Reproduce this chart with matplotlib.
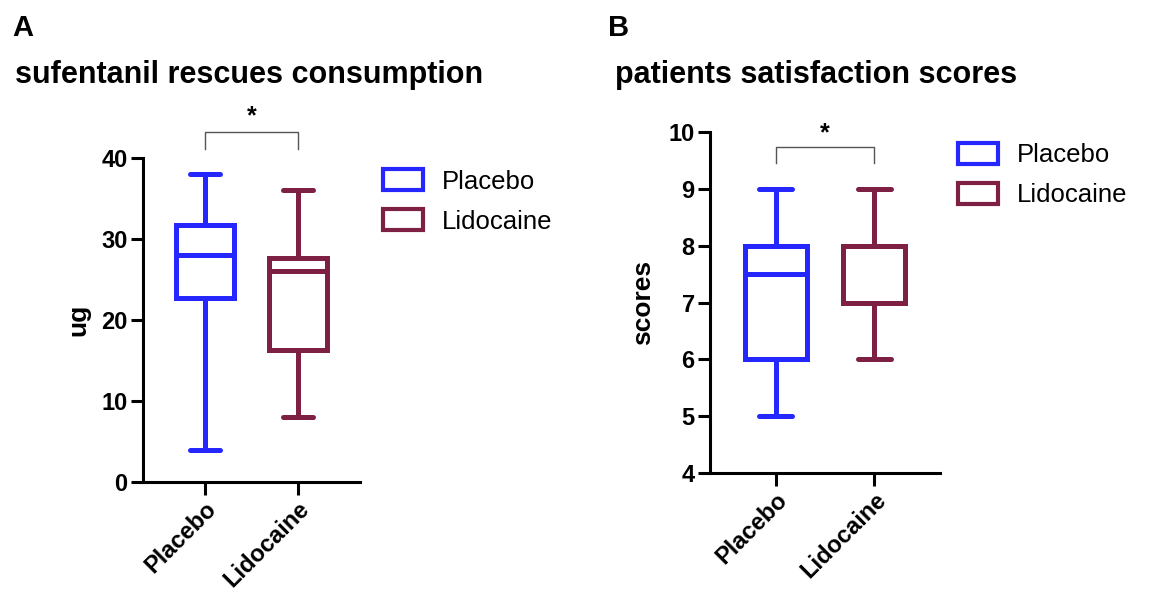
import matplotlib
matplotlib.use("Agg")
import matplotlib.pyplot as plt
from matplotlib.patches import Patch

plt.rcParams['font.family'] = ['Liberation Sans', 'DejaVu Sans']

# Dados
grupos = ['Placebo', 'Lidocaine']
cores = ['#2626FF', '#7E1F44']

# A - consumo de sufentanil (ug)
suf_min = [4, 8]
suf_q1 = [22.75, 16.3]
suf_med = [28, 26]
suf_q3 = [31.7, 27.7]
suf_max = [38, 36]

# B - escores de satisfação
sat_min = [5, 6]
sat_q1 = [6, 7]
sat_med = [7.5, 8]
sat_q3 = [8, 8]
sat_max = [9, 9]

fig = plt.figure(figsize=(11.52, 5.93), dpi=100)


def painel(ax, mins, q1s, meds, q3s, maxs, ylim, yticks, ylabel, lpad,
           y_barra, y_haste, y_star, leg_anchor):
    stats = []
    for i in range(len(grupos)):
        stats.append({'whislo': mins[i], 'q1': q1s[i], 'med': meds[i],
                      'q3': q3s[i], 'whishi': maxs[i], 'fliers': []})
    bp = ax.bxp(stats, positions=[1, 2], widths=0.63, showfliers=False,
                patch_artist=True, manage_ticks=False)
    for i, c in enumerate(cores):
        bp['boxes'][i].set(facecolor='white', edgecolor=c, linewidth=3.6)
        bp['medians'][i].set(color=c, linewidth=3.6)
        for k in (2 * i, 2 * i + 1):
            bp['whiskers'][k].set(color=c, linewidth=3.6)
            bp['caps'][k].set(color=c, linewidth=3.6)
            bp['caps'][k].set_xdata([i + 1 - 0.165, i + 1 + 0.165])
            bp['caps'][k].set_solid_capstyle('round')

    ax.set_xlim(0.333, 2.667)
    ax.set_ylim(*ylim)
    ax.set_yticks(yticks)
    ax.set_xticks([1, 2])
    ax.set_xticklabels(grupos, rotation=45, ha='right', rotation_mode='anchor',
                       fontweight='bold', fontsize=17)
    for lab in ax.get_yticklabels():
        lab.set_fontweight('bold')
        lab.set_fontsize(17)
    ax.tick_params(axis='both', width=2.2, length=9, pad=2, direction='out')
    for s in ['top', 'right']:
        ax.spines[s].set_visible(False)
    for s in ['left', 'bottom']:
        ax.spines[s].set_linewidth(2.2)
    ax.set_ylabel(ylabel, fontweight='bold', fontsize=19, labelpad=lpad)

    # barra de significância
    ax.plot([1, 1, 2, 2], [y_haste, y_barra, y_barra, y_haste],
            color='#555555', lw=1.0, clip_on=False)
    ax.text(1.5, y_star, '*', ha='center', va='center', fontsize=18,
            fontweight='bold', clip_on=False)

    handles = [Patch(facecolor='white', edgecolor=c, linewidth=3.0) for c in cores]
    ax.legend(handles, grupos, loc='upper left', bbox_to_anchor=leg_anchor,
              frameon=False, fontsize=18.5, handlelength=1.55, handleheight=0.9,
              handletextpad=0.75, labelspacing=0.6)


ax1 = fig.add_axes([0.1241, 0.1872, 0.1884, 0.5464])
painel(ax1, suf_min, suf_q1, suf_med, suf_q3, suf_max, (0, 40), [0, 10, 20, 30, 40],
       'ug', 8, 43.2, 41.1, 45.1, (1.0, 1.037))

ax2 = fig.add_axes([0.6163, 0.2018, 0.1997, 0.5761])
painel(ax2, sat_min, sat_q1, sat_med, sat_q3, sat_max, (4, 10), [4, 5, 6, 7, 8, 9, 10],
       'scores', 10, 9.74, 9.45, 9.97, (0.978, 1.035))

fig.text(0.011, 0.976, 'A', fontsize=21, fontweight='bold', va='top')
fig.text(0.013, 0.86, 'sufentanil rescues consumption', fontsize=22, fontweight='bold')
fig.text(0.528, 0.976, 'B', fontsize=21, fontweight='bold', va='top')
fig.text(0.534, 0.86, 'patients satisfaction scores', fontsize=22, fontweight='bold')

plt.savefig('out.png', dpi=100)
